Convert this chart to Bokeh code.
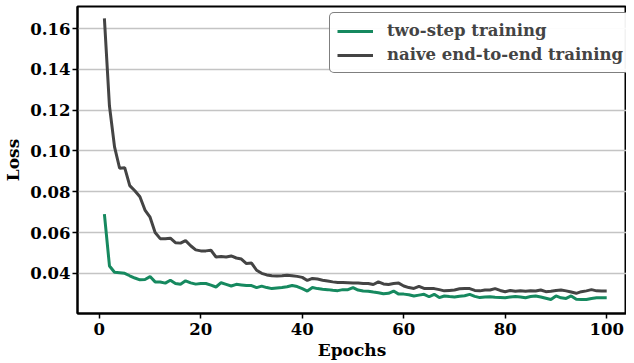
from bokeh.plotting import figure
from bokeh.models import Range1d, FixedTicker, Legend, LegendItem
from bokeh.embed import file_html
from bokeh.resources import INLINE

epochs = list(range(1, 101))
two_step = [
    0.0690, 0.0436, 0.0405, 0.0403, 0.0400, 0.0388, 0.0377, 0.0368, 0.0370, 0.0384,
    0.0358, 0.0357, 0.0352, 0.0366, 0.0350, 0.0346, 0.0363, 0.0353, 0.0347, 0.0350,
    0.0350, 0.0342, 0.0333, 0.0354, 0.0346, 0.0338, 0.0346, 0.0343, 0.0340, 0.0340,
    0.0330, 0.0337, 0.0330, 0.0325, 0.0328, 0.0330, 0.0334, 0.0340, 0.0335, 0.0325,
    0.0313, 0.0330, 0.0325, 0.0322, 0.0320, 0.0317, 0.0315, 0.0320, 0.0320, 0.0330,
    0.0318, 0.0313, 0.0312, 0.0308, 0.0305, 0.0300, 0.0302, 0.0313, 0.0298, 0.0298,
    0.0295, 0.0289, 0.0293, 0.0297, 0.0285, 0.0297, 0.0281, 0.0289, 0.0286, 0.0284,
    0.0288, 0.0290, 0.0297, 0.0287, 0.0281, 0.0284, 0.0285, 0.0283, 0.0282, 0.0280,
    0.0284, 0.0286, 0.0284, 0.0280, 0.0286, 0.0289, 0.0284, 0.0278, 0.0272, 0.0289,
    0.0280, 0.0277, 0.0289, 0.0273, 0.0272, 0.0272, 0.0277, 0.0280, 0.0280, 0.0280,
]
naive = [
    0.1650, 0.1220, 0.1020, 0.0915, 0.0918, 0.0830, 0.0805, 0.0775, 0.0710, 0.0675,
    0.0600, 0.0570, 0.0570, 0.0572, 0.0550, 0.0548, 0.0560, 0.0535, 0.0515, 0.0510,
    0.0510, 0.0513, 0.0480, 0.0482, 0.0480, 0.0485, 0.0475, 0.0470, 0.0448, 0.0450,
    0.0415, 0.0400, 0.0392, 0.0388, 0.0387, 0.0388, 0.0390, 0.0388, 0.0385, 0.0380,
    0.0365, 0.0375, 0.0372, 0.0366, 0.0362, 0.0358, 0.0355, 0.0355, 0.0354, 0.0352,
    0.0352, 0.0350, 0.0350, 0.0345, 0.0358, 0.0348, 0.0345, 0.0350, 0.0352, 0.0338,
    0.0330, 0.0326, 0.0336, 0.0326, 0.0326, 0.0325, 0.0320, 0.0314, 0.0316, 0.0318,
    0.0324, 0.0326, 0.0325, 0.0316, 0.0314, 0.0318, 0.0318, 0.0325, 0.0316, 0.0310,
    0.0316, 0.0312, 0.0314, 0.0312, 0.0314, 0.0313, 0.0318, 0.0310, 0.0312, 0.0316,
    0.0318, 0.0314, 0.0308, 0.0302, 0.0310, 0.0314, 0.0320, 0.0314, 0.0313, 0.0313,
]
x_ticks = [0, 20, 40, 60, 80, 100]
y_ticks = [0.04, 0.06, 0.08, 0.10, 0.12, 0.14, 0.16]
y_tick_labels = {0.04: "0.04", 0.06: "0.06", 0.08: "0.08", 0.10: "0.10",
                 0.12: "0.12", 0.14: "0.14", 0.16: "0.16"}

GREEN = "#16895f"
DARK = "#444444"
FONT = "DejaVu Serif"

p = figure(width=626, height=362, output_backend="svg", toolbar_location=None,
           x_range=Range1d(-4.3, 103.9), y_range=Range1d(0.0203, 0.1708),
           min_border_left=66, min_border_right=0, min_border_top=6, min_border_bottom=40)

r1 = p.line(epochs, two_step, line_color=GREEN, line_width=3)
r2 = p.line(epochs, naive, line_color=DARK, line_width=3)

p.outline_line_color = "black"
p.outline_line_width = 2
p.xgrid.grid_line_color = None
p.ygrid.grid_line_color = "#c4c4c4"
p.ygrid.grid_line_width = 1.5

p.xaxis.ticker = FixedTicker(ticks=x_ticks)
p.yaxis.ticker = FixedTicker(ticks=y_ticks)
p.yaxis.major_label_overrides = y_tick_labels
for ax in (p.xaxis, p.yaxis):
    ax.axis_line_color = "black"
    ax.axis_line_width = 2
    ax.major_tick_line_color = "black"
    ax.major_tick_line_width = 1.5
    ax.major_tick_out = 5
    ax.major_tick_in = 0
    ax.minor_tick_line_color = None
    ax.major_label_text_font = FONT
    ax.major_label_text_font_style = "bold"
    ax.major_label_text_font_size = "16.5px"
    ax.major_label_text_color = "black"
    ax.axis_label_text_font = FONT
    ax.axis_label_text_font_style = "bold"
    ax.axis_label_text_font_size = "17px"
    ax.axis_label_text_color = "black"
p.xaxis.axis_label = "Epochs"
p.yaxis.axis_label = "Loss"
p.xaxis.axis_label_standoff = 2
p.xaxis.major_label_standoff = 4
p.yaxis.major_label_standoff = 2
p.yaxis.axis_label_standoff = 4

legend = Legend(items=[LegendItem(label="two-step training", renderers=[r1]),
                       LegendItem(label="naive end-to-end training", renderers=[r2])],
                location=(252, 240))
legend.margin = 0
legend.padding = 7
legend.spacing = 3
legend.border_line_color = "black"
legend.border_line_width = 1.5
legend.border_radius = 5
legend.label_text_font = FONT
legend.label_text_font_style = "bold"
legend.label_text_font_size = "16.5px"
legend.glyph_width = 36
legend.label_standoff = 14
legend.label_height = 21
p.add_layout(legend)

open("out.html", "w").write(file_html(p, INLINE))
